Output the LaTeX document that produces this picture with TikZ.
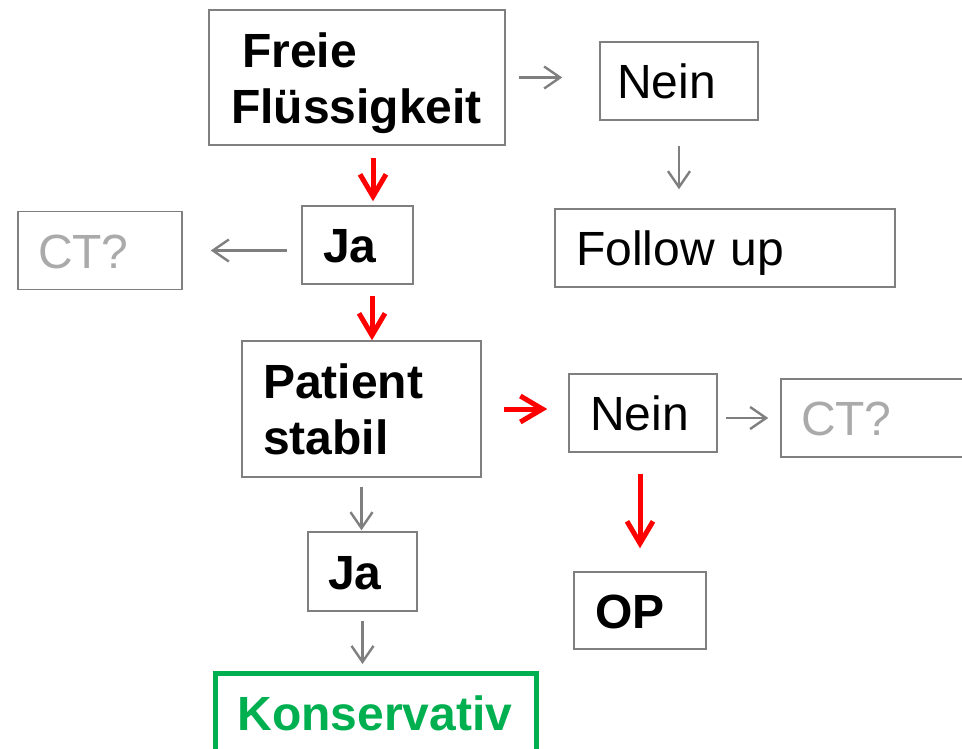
\documentclass[tikz,border=0pt]{standalone}
\usepackage{fontspec}
\setmainfont{Liberation Sans}
\usetikzlibrary{arrows.meta}

\definecolor{boxgray}{RGB}{127,127,127}
\definecolor{ctgray}{RGB}{170,170,170}
\definecolor{okgreen}{RGB}{0,176,80}

\begin{document}
\begin{tikzpicture}[x=1pt, y=-1pt,
        box/.style={draw=boxgray, line width=1.5pt, inner ysep=0pt, align=left,
            font=\fontsize{48}{56}\selectfont, text height=35pt, text depth=0pt},
        graytip/.style={-{Straight Barb[length=16pt, width=22pt]}, boxgray, line width=2.4pt},
        redtip/.style={-{Straight Barb[length=22pt, width=26pt]}, red, line width=5pt}]

            \useasboundingbox (0,0) rectangle (962,748);

            % left column
            \node[box, minimum width=296pt, minimum height=135pt, inner xsep=22pt,
                text width=252pt, text depth=56pt, font=\fontsize{48}{56}\selectfont\bfseries]
                (frei) at (357,77.5) {\hspace*{11pt}Freie\\Flüssigkeit};
            \node[box, minimum width=111pt, minimum height=78pt, inner xsep=21pt, text width=69pt,
                font=\fontsize{48}{56}\selectfont\bfseries] (ja1) at (357.5,245) {Ja};
            \node[box, minimum width=164pt, minimum height=78pt, inner xsep=20pt, text width=124pt,
                text=ctgray] (ct1) at (100,250.5) {CT?};
            \node[box, minimum width=239pt, minimum height=136pt, inner xsep=21pt, text width=197pt,
                text depth=56pt, font=\fontsize{48}{56}\selectfont\bfseries]
                (stabil) at (361.5,409) {Patient\\stabil};
            \node[box, minimum width=109pt, minimum height=79pt, inner xsep=20pt, text width=69pt,
                font=\fontsize{48}{56}\selectfont\bfseries] (ja2) at (362.5,571.5) {Ja};
            \node[box, draw=okgreen, line width=5pt, text=okgreen, minimum width=321pt,
                minimum height=78pt, inner xsep=22pt, text width=277pt,
                font=\fontsize{48}{56}\selectfont\bfseries] (kons) at (376,712.5) {Konservativ};

            % right column
            \node[box, minimum width=158pt, minimum height=78pt, inner xsep=17pt, text width=124pt]
                (nein1) at (679,81) {Nein};
            \node[box, minimum width=340pt, minimum height=78pt, inner xsep=21pt, text width=298pt]
                (follow) at (725,248) {Follow up};
            \node[box, minimum width=148pt, minimum height=78pt, inner xsep=21pt, text width=106pt]
                (nein2) at (643,413) {Nein};
            \node[box, minimum width=200pt, minimum height=78pt, inner xsep=20pt, text width=160pt,
                text=ctgray] (ct2) at (881,418) {CT?};
            \node[box, minimum width=132pt, minimum height=77pt, inner xsep=21pt, text width=90pt,
                font=\fontsize{48}{56}\selectfont\bfseries] (op) at (640,610.5) {OP};

            % arrows
            \draw[graytip, shorten <=13pt, shorten >=37pt] (frei.east) -- (frei.east -| nein1.west);
            \draw[graytip, shorten <=25pt, shorten >=19pt] (nein1.south) -- (nein1.south |- follow.north);
            \draw[redtip, shorten <=12pt, shorten >=4pt] ([xshift=16pt]frei.south) -- ([xshift=16pt]frei.south |- ja1.north);
            \draw[graytip, shorten <=14pt, shorten >=28pt] (ja1.west |- ct1.east) -- (ct1.east);
            \draw[redtip, shorten <=11pt] ([xshift=14.5pt]ja1.south) -- ([xshift=14.5pt]ja1.south |- stabil.north);
            \draw[redtip, shorten <=22pt, shorten >=21pt] (stabil.east) -- (stabil.east -| nein2.west);
            \draw[graytip, shorten <=8pt, shorten >=12pt] (nein2.east |- ct2.west) -- (ct2.west);
            \draw[redtip, shorten <=21pt, shorten >=23pt] (nein2.south -| op.north) -- (op.north);
            \draw[graytip, shorten <=9pt, shorten >=1pt] (stabil.south) -- (stabil.south |- ja2.north);
            \draw[graytip, shorten <=9pt, shorten >=7pt] (ja2.south) -- (ja2.south |- kons.north);
        \end{tikzpicture}
\end{document}
